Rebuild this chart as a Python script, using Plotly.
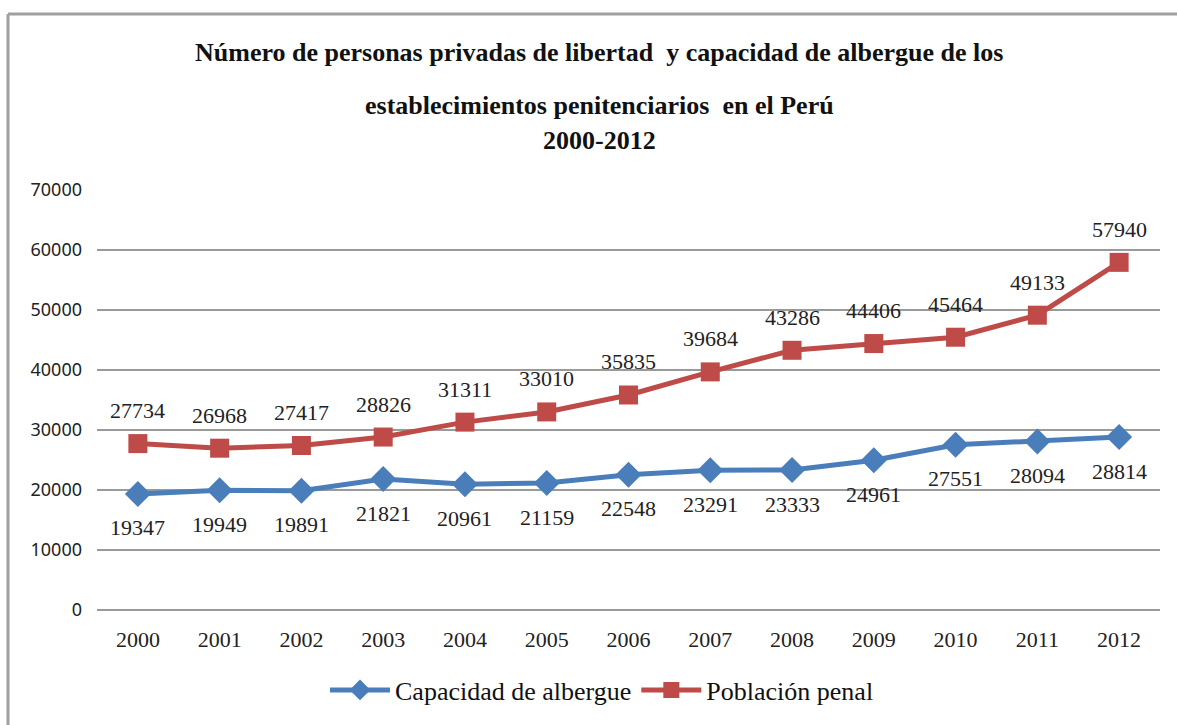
import plotly.graph_objects as go

years = ["2000", "2001", "2002", "2003", "2004", "2005", "2006",
         "2007", "2008", "2009", "2010", "2011", "2012"]
capacidad = [19347, 19949, 19891, 21821, 20961, 21159, 22548,
             23291, 23333, 24961, 27551, 28094, 28814]
poblacion = [27734, 26968, 27417, 28826, 31311, 33010, 35835,
             39684, 43286, 44406, 45464, 49133, 57940]
y_ticks = [0, 10000, 20000, 30000, 40000, 50000, 60000, 70000]

SERIF = "Liberation Serif, Times New Roman, serif"
SANS = "Noto Sans, Open Sans, sans-serif"
BLUE = "#4A7EBB"
RED = "#BE4B48"

fig = go.Figure()
fig.add_trace(go.Scatter(
    x=years, y=capacidad, name="Capacidad de albergue",
    mode="lines+markers",
    line=dict(color=BLUE, width=5),
    marker=dict(symbol="diamond", size=20, color=BLUE),
))
fig.add_trace(go.Scatter(
    x=years, y=poblacion, name="Población penal",
    mode="lines+markers",
    line=dict(color=RED, width=5),
    marker=dict(symbol="square", size=19, color=RED),
))

L, R, T, B = 97, 17, 190, 115
W, H = 1177, 725
pw, ph = W - L - R, H - T - B

def py(p):
    return (H - B - p) / ph

def px(p):
    return (p - L) / pw

title_lines = [
    ("Número de personas privadas de libertad  y capacidad de albergue de los", 52),
    ("establecimientos penitenciarios  en el Perú", 105),
    ("2000-2012", 140),
]
annotations = [
    dict(text=f"<b>{t}</b>", x=px(599), y=py(yy), xref="paper", yref="paper",
         showarrow=False, xanchor="center", yanchor="middle",
         font=dict(family=SERIF, size=26, color="#111"))
    for t, yy in title_lines
]
for i, v in enumerate(poblacion):
    annotations.append(dict(text=str(v), x=i, y=v, xref="x", yref="y",
                            showarrow=False, yshift=33,
                            font=dict(family=SERIF, size=22, color="#222")))
for i, v in enumerate(capacidad):
    annotations.append(dict(text=str(v), x=i, y=v, xref="x", yref="y",
                            showarrow=False, yshift=-34,
                            font=dict(family=SERIF, size=22, color="#222")))

fig.update_layout(
    width=W, height=H,
    margin=dict(l=L, r=R, t=T, b=B),
    paper_bgcolor="white", plot_bgcolor="white",
    showlegend=True,
    legend=dict(orientation="h", x=px(602), xanchor="center",
                y=py(690), yanchor="middle",
                font=dict(family=SERIF, size=26, color="#111"),
                itemwidth=60),
    annotations=annotations,
    shapes=[
        dict(type="line", xref="paper", yref="paper",
             x0=px(8), x1=px(8), y0=py(14), y1=py(730),
             line=dict(color="#A0A0A0", width=3)),
        dict(type="line", xref="paper", yref="paper",
             x0=px(8), x1=px(1185), y0=py(14), y1=py(14),
             line=dict(color="#A0A0A0", width=3)),
    ],
    xaxis=dict(type="category", range=[-0.5, 12.5], showgrid=False,
               showline=False, ticks="", ticklabelstandoff=14,
               tickfont=dict(family=SERIF, size=22, color="#222")),
    yaxis=dict(range=[0, 70000], tickvals=y_ticks, tickformat="d",
               showgrid=True,
               gridcolor="#9A9A9A", gridwidth=1.5, zeroline=True,
               zerolinecolor="#9A9A9A", zerolinewidth=1.5,
               tickfont=dict(family=SANS, size=18, color="#222"),
               ticks="", ticklabelstandoff=14),
)

fig.write_html("out.html", config={"displayModeBar": False},
               post_script="document.body.style.margin='0';")
